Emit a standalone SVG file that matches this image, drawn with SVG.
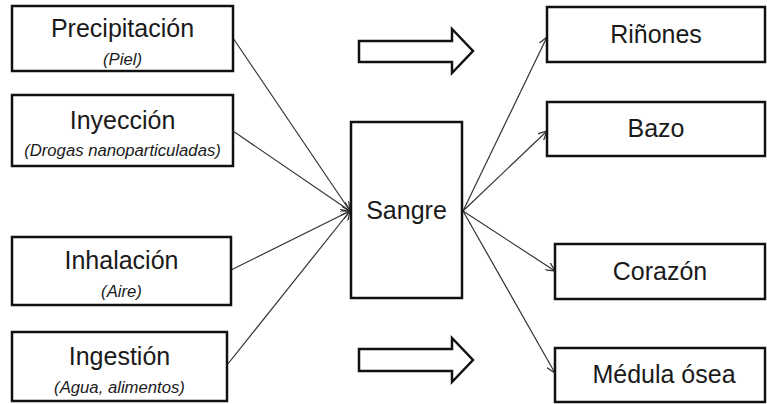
<svg xmlns="http://www.w3.org/2000/svg" width="767" height="404" viewBox="0 0 767 404">
<defs>
<style>
.box{fill:#fff;stroke:#111;stroke-width:2.5}
.t{font-family:"Liberation Sans",Arial,sans-serif;font-size:25px;fill:#1a1a1a;text-anchor:middle}
.s{font-family:"Liberation Sans",Arial,sans-serif;font-size:16.7px;font-style:italic;fill:#1a1a1a;text-anchor:middle}
.ln{stroke:#333;stroke-width:1.2;fill:none}
.big{fill:#fff;stroke:#111;stroke-width:2.5;stroke-linejoin:miter}
</style>
<marker id="ah" viewBox="0 0 10 10" refX="10" refY="5" markerWidth="9" markerHeight="9" markerUnits="userSpaceOnUse" orient="auto">
<path d="M0,0 L10,5 L0,10" fill="none" stroke="#333" stroke-width="1.4"/>
</marker>
</defs>
<rect width="767" height="404" fill="#fff"/>
<g id="connectors">
<line class="ln" x1="233" y1="38" x2="350" y2="211" marker-end="url(#ah)"/>
<line class="ln" x1="233" y1="131" x2="350" y2="211" marker-end="url(#ah)"/>
<line class="ln" x1="231" y1="270" x2="350" y2="211" marker-end="url(#ah)"/>
<line class="ln" x1="227" y1="365" x2="350" y2="211" marker-end="url(#ah)"/>
<line class="ln" x1="463" y1="211" x2="547" y2="37" marker-end="url(#ah)"/>
<line class="ln" x1="463" y1="211" x2="547" y2="131" marker-end="url(#ah)"/>
<line class="ln" x1="463" y1="211" x2="555" y2="271" marker-end="url(#ah)"/>
<line class="ln" x1="463" y1="211" x2="555" y2="373" marker-end="url(#ah)"/>
</g>
<g id="arrow-top"><path class="big" d="M359,41 H452 V29 L473,51 L452,73 V62 H359 Z"/></g>
<g id="arrow-bottom"><path class="big" d="M359,349 H452 V338 L473,360 L452,382 V371 H359 Z"/></g>
<g id="precipitacion">
<rect class="box" x="12" y="6" width="221" height="65"/>
<text class="t" x="122.5" y="37">Precipitación</text>
<text class="s" x="122.5" y="65">(Piel)</text>
</g>
<g id="inyeccion">
<rect class="box" x="12" y="95" width="221" height="71"/>
<text class="t" x="122.5" y="129">Inyección</text>
<text class="s" x="122.5" y="156">(Drogas nanoparticuladas)</text>
</g>
<g id="inhalacion">
<rect class="box" x="12" y="237" width="219" height="68"/>
<text class="t" x="121.5" y="269">Inhalación</text>
<text class="s" x="121.5" y="297">(Aire)</text>
</g>
<g id="ingestion">
<rect class="box" x="12" y="332" width="215" height="69"/>
<text class="t" x="119.5" y="365">Ingestión</text>
<text class="s" x="119.5" y="393">(Agua, alimentos)</text>
</g>
<g id="sangre">
<rect class="box" x="351" y="122" width="111" height="176"/>
<text class="t" x="406.5" y="219">Sangre</text>
</g>
<g id="rinones">
<rect class="box" x="547" y="7" width="218" height="55"/>
<text class="t" x="656" y="43">Riñones</text>
</g>
<g id="bazo">
<rect class="box" x="547" y="102" width="218" height="54"/>
<text class="t" x="656" y="137">Bazo</text>
</g>
<g id="corazon">
<rect class="box" x="555" y="244" width="210" height="55"/>
<text class="t" x="660" y="280">Corazón</text>
</g>
<g id="medula">
<rect class="box" x="555" y="348" width="210" height="54"/>
<text class="t" x="664" y="383">Médula ósea</text>
</g>
</svg>
